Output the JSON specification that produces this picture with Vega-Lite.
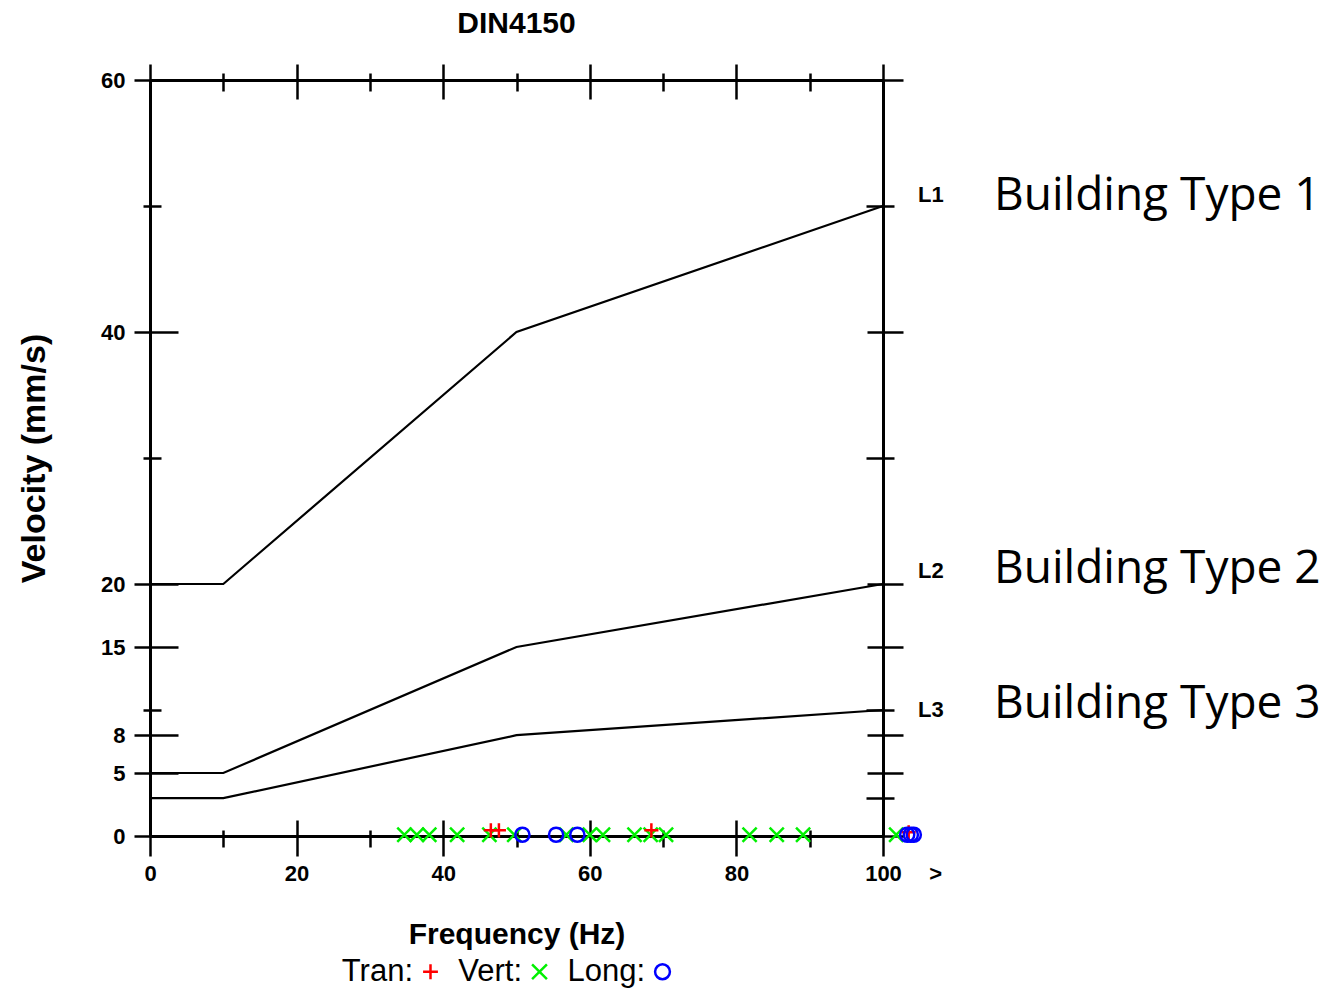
{
  "$schema": "https://vega.github.io/schema/vega-lite/v6.json",
  "width": 733,
  "height": 756,
  "autosize": {"type": "none"},
  "padding": {"left": 150, "top": 80, "right": 452, "bottom": 155},
  "background": "white",
  "title": {"text": "DIN4150", "font": "Liberation Sans", "fontSize": 30, "fontWeight": "bold", "color": "black", "frame": "group", "anchor": "middle", "baseline": "alphabetic", "offset": 29, "dy": 29},
  "config": {
    "view": {"stroke": null},
    "axis": {"grid": false, "domainColor": "black", "tickColor": "black", "domainWidth": 3, "tickWidth": 2.5, "labelColor": "black", "titleColor": "black", "labelFont": "Liberation Sans", "titleFont": "Liberation Sans", "labelFontWeight": "bold", "titleFontWeight": "bold", "labelFontSize": 22, "titleFontSize": 30, "labelFlush": false, "labelOverlap": false}
  },
  "datasets": {
    "limits": [
      {"level": "L1", "freq": 0, "vel": 20}, {"level": "L1", "freq": 10, "vel": 20}, {"level": "L1", "freq": 50, "vel": 40}, {"level": "L1", "freq": 100, "vel": 50},
      {"level": "L2", "freq": 0, "vel": 5}, {"level": "L2", "freq": 10, "vel": 5}, {"level": "L2", "freq": 50, "vel": 15}, {"level": "L2", "freq": 100, "vel": 20},
      {"level": "L3", "freq": 0, "vel": 3}, {"level": "L3", "freq": 10, "vel": 3}, {"level": "L3", "freq": 50, "vel": 8}, {"level": "L3", "freq": 100, "vel": 10}
    ],
    "events": [
      {"series": "Vert", "freq": 34.7, "vel": 0.1}, {"series": "Vert", "freq": 36.4, "vel": 0.1}, {"series": "Vert", "freq": 38.1, "vel": 0.1},
      {"series": "Vert", "freq": 41.9, "vel": 0.1}, {"series": "Vert", "freq": 46.3, "vel": 0.1}, {"series": "Vert", "freq": 49.7, "vel": 0.1},
      {"series": "Vert", "freq": 56.8, "vel": 0.1}, {"series": "Vert", "freq": 60.0, "vel": 0.1}, {"series": "Vert", "freq": 61.8, "vel": 0.1},
      {"series": "Vert", "freq": 66.1, "vel": 0.1}, {"series": "Vert", "freq": 68.3, "vel": 0.1}, {"series": "Vert", "freq": 70.4, "vel": 0.1},
      {"series": "Vert", "freq": 81.8, "vel": 0.1}, {"series": "Vert", "freq": 85.5, "vel": 0.1}, {"series": "Vert", "freq": 89.1, "vel": 0.1},
      {"series": "Vert", "freq": 101.8, "vel": 0.1},
      {"series": "Tran", "freq": 46.5, "vel": 0.45}, {"series": "Tran", "freq": 47.6, "vel": 0.45}, {"series": "Tran", "freq": 68.4, "vel": 0.45}, {"series": "Tran", "freq": 103.5, "vel": 0.3},
      {"series": "Long", "freq": 50.8, "vel": 0.1}, {"series": "Long", "freq": 55.4, "vel": 0.1}, {"series": "Long", "freq": 58.3, "vel": 0.1},
      {"series": "Long", "freq": 103.3, "vel": 0.1}, {"series": "Long", "freq": 103.8, "vel": 0.1}, {"series": "Long", "freq": 104.2, "vel": 0.1}
    ],
    "codes": [
      {"freq": 100, "vel": 50.9, "code": "L1"},
      {"freq": 100, "vel": 21.0, "code": "L2"},
      {"freq": 100, "vel": 10.0, "code": "L3"}
    ],
    "names": [
      {"freq": 100, "vel": 50.8, "name": "Building Type 1"},
      {"freq": 100, "vel": 21.2, "name": "Building Type 2"},
      {"freq": 100, "vel": 10.5, "name": "Building Type 3"}
    ],
    "beyond": [
      {"freq": 107.2, "vel": 0, "text": ">"}
    ]
  },
  "resolve": {"axis": {"x": "independent", "y": "independent"}},
  "layer": [
    {
      "data": {"name": "limits"},
      "mark": {"type": "line", "color": "black", "strokeWidth": 2.2},
      "encoding": {
        "x": {"field": "freq", "type": "quantitative", "scale": {"domain": [0, 100], "nice": false, "zero": false},
              "axis": {"orient": "bottom", "values": [0, 20, 40, 60, 80, 100], "format": "d", "ticks": false, "labelPadding": 27, "title": "Frequency (Hz)", "titleY": 107, "titleBaseline": "alphabetic"}},
        "y": {"field": "vel", "type": "quantitative", "scale": {"domain": [0, 60], "nice": false, "zero": false},
              "axis": {"orient": "left", "labels": false, "ticks": false, "title": "Velocity (mm/s)", "titleFontSize": 34, "titleX": -106, "titleY": 378, "titleAngle": -90, "titleAlign": "center", "titleBaseline": "alphabetic"}},
        "detail": {"field": "level", "type": "nominal"}
      }
    },
    {
      "data": {"name": "events"},
      "mark": {"type": "point", "filled": false, "strokeWidth": 2.5, "size": 200, "opacity": 1},
      "encoding": {
        "x": {"field": "freq", "type": "quantitative", "scale": {"domain": [0, 100], "nice": false, "zero": false},
              "axis": {"orient": "bottom", "values": [0, 20, 40, 60, 80, 100], "offset": -16, "tickSize": 36, "labels": false, "domain": false, "title": null}},
        "y": {"field": "vel", "type": "quantitative", "scale": {"domain": [0, 60], "nice": false, "zero": false},
              "axis": {"orient": "left", "values": [0, 5, 8, 15, 20, 40, 60], "format": "d", "offset": -28, "tickSize": 44, "domain": false, "labelPadding": 9, "title": null}},
        "color": {"field": "series", "type": "nominal",
                  "scale": {"domain": ["Tran", "Vert", "Long"], "range": ["#ff0000", "#00f000", "#0000ff"]},
                  "legend": {"orient": "none", "legendX": 265, "legendY": 876, "direction": "horizontal", "title": null, "labelFont": "Liberation Sans", "labelFontSize": 31, "labelFontWeight": "normal", "labelColor": "black", "labelAlign": "right", "labelOffset": -33, "labelExpr": "datum.label + ':'", "columnPadding": 15, "symbolSize": 220, "symbolStrokeWidth": 2.5}},
        "shape": {"field": "series", "type": "nominal",
                  "scale": {"domain": ["Tran", "Vert", "Long"], "range": ["M-1,0L1,0M0,-1L0,1", "M-1,-1L1,1M-1,1L1,-1", "circle"]},
                  "legend": {"orient": "none", "legendX": 265, "legendY": 876, "direction": "horizontal", "title": null, "labelFont": "Liberation Sans", "labelFontSize": 31, "labelFontWeight": "normal", "labelColor": "black", "labelAlign": "right", "labelOffset": -33, "labelExpr": "datum.label + ':'", "columnPadding": 15, "symbolSize": 220, "symbolStrokeWidth": 2.5}}
      }
    },
    {
      "data": {"name": "codes"},
      "mark": {"type": "text", "align": "left", "baseline": "middle", "dx": 35, "font": "Liberation Sans", "fontSize": 22, "fontWeight": "bold", "color": "black"},
      "encoding": {
        "x": {"field": "freq", "type": "quantitative", "scale": {"domain": [0, 100], "nice": false, "zero": false},
              "axis": {"orient": "bottom", "values": [10, 30, 50, 70, 90], "offset": -6, "tickSize": 17, "labels": false, "domain": false, "title": null}},
        "y": {"field": "vel", "type": "quantitative", "scale": {"domain": [0, 60], "nice": false, "zero": false},
              "axis": {"orient": "left", "values": [10, 30, 50], "offset": -11, "tickSize": 18, "labels": false, "domain": false, "title": null}},
        "text": {"field": "code", "type": "nominal"}
      }
    },
    {
      "data": {"name": "names"},
      "mark": {"type": "text", "align": "left", "baseline": "middle", "dx": 111, "font": "Open Sans", "fontSize": 46, "color": "black"},
      "encoding": {
        "x": {"field": "freq", "type": "quantitative", "scale": {"domain": [0, 100], "nice": false, "zero": false},
              "axis": {"orient": "top", "labels": false, "ticks": false, "domain": true, "title": null}},
        "y": {"field": "vel", "type": "quantitative", "scale": {"domain": [0, 60], "nice": false, "zero": false},
              "axis": {"orient": "right", "labels": false, "ticks": false, "domain": true, "title": null}},
        "text": {"field": "name", "type": "nominal"}
      }
    },
    {
      "data": {"name": "beyond"},
      "mark": {"type": "text", "align": "center", "baseline": "middle", "dy": 38, "font": "Liberation Sans", "fontSize": 22, "fontWeight": "bold", "color": "black"},
      "encoding": {
        "x": {"field": "freq", "type": "quantitative", "scale": {"domain": [0, 100], "nice": false, "zero": false},
              "axis": {"orient": "top", "values": [0, 20, 40, 60, 80, 100], "offset": -19, "tickSize": 35, "labels": false, "domain": false, "title": null}},
        "y": {"field": "vel", "type": "quantitative", "scale": {"domain": [0, 60], "nice": false, "zero": false},
              "axis": {"orient": "right", "values": [0, 5, 8, 15, 20, 40, 60], "offset": -16, "tickSize": 36, "labels": false, "domain": false, "title": null}},
        "text": {"field": "text", "type": "nominal"}
      }
    },
    {
      "data": {"name": "limits"},
      "mark": {"type": "point", "opacity": 0},
      "encoding": {
        "x": {"field": "freq", "type": "quantitative", "scale": {"domain": [0, 100], "nice": false, "zero": false},
              "axis": {"orient": "top", "values": [10, 30, 50, 70, 90], "offset": -11, "tickSize": 18, "labels": false, "domain": false, "title": null}},
        "y": {"field": "vel", "type": "quantitative", "scale": {"domain": [0, 60], "nice": false, "zero": false},
              "axis": {"orient": "right", "values": [3, 10, 30, 50], "offset": -17, "tickSize": 28, "labels": false, "domain": false, "title": null}}
      }
    }
  ]
}
